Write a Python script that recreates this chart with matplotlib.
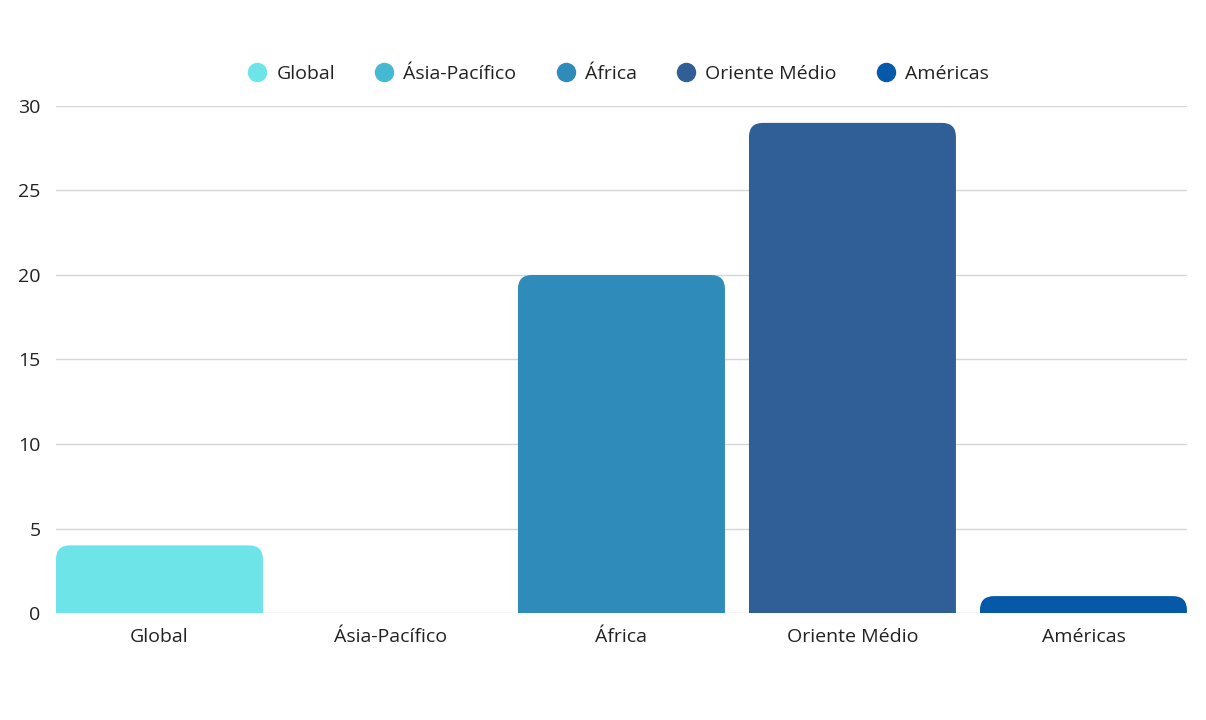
import matplotlib.pyplot as plt
from matplotlib.patches import FancyBboxPatch
from matplotlib.lines import Line2D

plt.rcParams['font.family'] = ['Open Sans', 'DejaVu Sans']

regions = ["Global", "Ásia-Pacífico", "África", "Oriente Médio", "Américas"]
values = [4, 0, 20, 29, 1]
colors = ["#6de4e8", "#45b9d2", "#2e8bba", "#2f5f96", "#0559a8"]

BAR_W = 0.896
TEXT = "#222222"

fig = plt.figure(figsize=(12.06, 7.2), dpi=100)
ax = fig.add_axes([0.0464, 0.1486, 0.9378, 0.7042])

x_min, x_max = -BAR_W / 2, len(regions) - 1 + BAR_W / 2
y_min, y_max = 0, 30
ax.set_xlim(x_min, x_max)
ax.set_ylim(y_min, y_max)

# aspect between one x unit and one y unit in pixels, so corners stay circular
bbox = ax.get_window_extent()
px_x = bbox.width / (x_max - x_min)
px_y = bbox.height / (y_max - y_min)
aspect = px_x / px_y
radius = 14 / px_x

for i, (val, col) in enumerate(zip(values, colors)):
    if val <= 0:
        continue
    # start below zero so only the top corners show as rounded
    base = -radius * aspect
    patch = FancyBboxPatch(
        (i - BAR_W / 2, base), BAR_W, val - base,
        boxstyle=f"round,pad=0,rounding_size={radius}",
        mutation_aspect=aspect,
        facecolor=col, edgecolor="none", zorder=3,
    )
    ax.add_patch(patch)

ax.set_yticks(range(0, 31, 5))
ax.grid(axis="y", color="#d6d6d6", linewidth=1, zorder=0)
ax.set_xticks(range(len(regions)))
ax.set_xticklabels(regions)
ax.tick_params(axis="both", length=0, labelsize=14, colors=TEXT)
ax.tick_params(axis="x", pad=11)
ax.tick_params(axis="y", pad=11)
for side in ["top", "right", "left", "bottom"]:
    ax.spines[side].set_visible(False)

handles = [
    Line2D([0], [0], marker="o", linestyle="none", markersize=14,
           markerfacecolor=c, markeredgecolor="none")
    for c in colors
]
fig.legend(handles, regions, loc="center", bbox_to_anchor=(0.511, 0.897),
           ncol=5, frameon=False, fontsize=14, handlelength=1.36,
           handletextpad=0.3, columnspacing=1.85, labelcolor=TEXT)

fig.savefig("out.png", dpi=100, facecolor="white")
